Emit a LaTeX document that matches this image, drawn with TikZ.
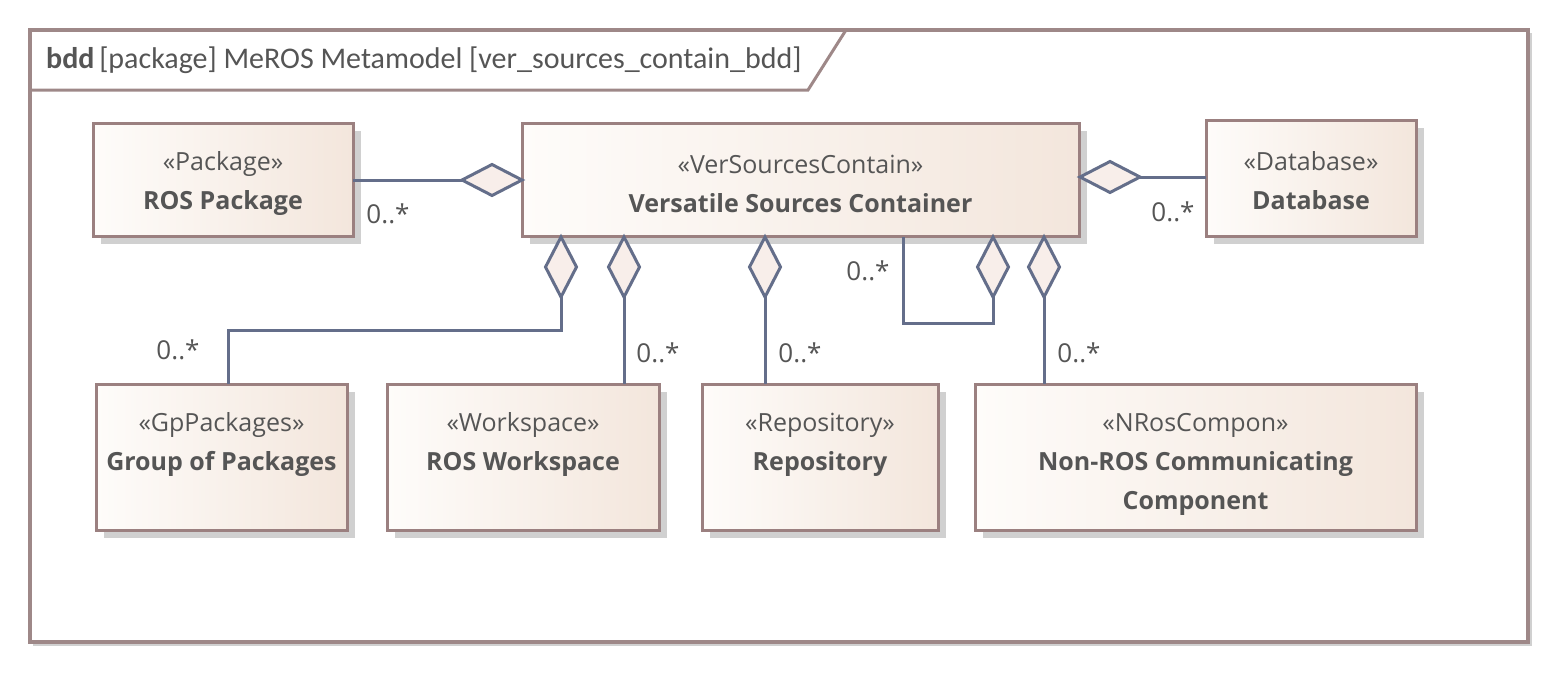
\documentclass[tikz,border=0pt]{standalone}
\usepackage{fontspec}
\setmainfont{Open Sans}
\newfontfamily\titlefont{Carlito}
\usetikzlibrary{shadows,calc}
\definecolor{frameC}{RGB}{158,136,136}
\definecolor{boxB}{RGB}{155,128,128}
\definecolor{fillL}{RGB}{254,252,250}
\definecolor{fillR}{RGB}{243,230,220}
\definecolor{connC}{RGB}{100,110,138}
\definecolor{diaF}{RGB}{248,238,234}
\definecolor{txtC}{RGB}{85,85,85}
\definecolor{shadC}{RGB}{208,208,208}
\begin{document}
\begin{tikzpicture}[x=1pt,y=-1pt,
  blk/.style={draw=boxB, line width=3pt, left color=fillL, right color=fillR,
     drop shadow={shadow xshift=8pt, shadow yshift=-8pt, fill=shadC, opacity=1},
     inner sep=0pt, outer sep=0pt},
  st/.style={text=txtC, font=\fontsize{25}{30}\selectfont, inner sep=0pt},
  nm/.style={text=txtC, font=\fontsize{25}{30}\selectfont\bfseries, inner sep=0pt},
  mult/.style={text=txtC, font=\fontsize{26}{30}\selectfont, inner sep=0pt},
  conn/.style={draw=connC, line width=3pt},
  dia/.style={draw=connC, line width=3pt, fill=diaF, line join=miter},
]
\useasboundingbox (0,0) rectangle (1557,672);
% frame
\draw[shadC, line width=2pt] (33,645) -- (1531,645) -- (1531,33);
\draw[frameC, line width=3.5pt] (30,30) rectangle (1528,642);
\draw[frameC, line width=3pt] (30,90) -- (808,90) -- (846,30);
\node[anchor=base west, inner sep=0pt, text=txtC, font=\titlefont\fontsize{30}{34}\selectfont] (title) at (46,68) {\textbf{bdd}\hspace{-2pt} [package] MeROS Metamodel [ver\_sources\_contain\_bdd]};

% boxes
\node[blk, minimum width=260pt, minimum height=113pt] (pkg) at (223,179.5) {};
\node[blk, minimum width=557pt, minimum height=113pt] (vsc) at (800.5,179.5) {};
\node[blk, minimum width=210pt, minimum height=116pt] (db) at (1311,178) {};
\node[blk, minimum width=251pt, minimum height=146pt] (gp) at (221.5,457) {};
\node[blk, minimum width=272pt, minimum height=146pt] (ws) at (523,457) {};
\node[blk, minimum width=236pt, minimum height=146pt] (repo) at (820,457) {};
\node[blk, minimum width=441pt, minimum height=146pt] (nros) at (1195.5,457) {};

% texts
\node[st] (pkgS) at (223,164) {«Package»};
\node[nm] (pkgN) at (223,203) {ROS Package};
\node[st] (vscS) at (800.5,164) {«VerSourcesContain»};
\node[nm] (vscN) at (800.5,203) {Versatile Sources Container};
\node[st] (dbS) at (1311,161) {«Database»};
\node[nm] (dbN) at (1311,200) {Database};
\node[st] (gpS) at (221.5,425) {«GpPackages»};
\node[nm] (gpN) at (221.5,464) {Group of Packages};
\node[st] (wsS) at (523,425) {«Workspace»};
\node[nm] (wsN) at (523,464) {ROS Workspace};
\node[st] (repoS) at (820,425) {«Repository»};
\node[nm] (repoN) at (820,464) {Repository};
\node[st] (nrosS) at (1195.5,425) {«NRosCompon»};
\node[nm] (nrosN) at (1195.5,464) {Non-ROS Communicating};
\node[nm] (nrosN2) at (1195.5,503) {Component};

% diamonds (horizontal)
\draw[dia] (522,180) -- (492,164.5) -- (462,180) -- (492,195.5) -- cycle;
\coordinate (dpk) at (462,180);
\draw[dia] (1080,177) -- (1110,161.5) -- (1140,177) -- (1110,192.5) -- cycle;
\coordinate (ddb) at (1140,177);
% diamonds (vertical)
\foreach \xx/\nn in {561/dgp, 624/dws, 765/drepo, 993/dself, 1044/dnros}{
  \draw[dia] (\xx,237) -- (\xx+15.5,267) -- (\xx,297) -- (\xx-15.5,267) -- cycle;
  \coordinate (\nn) at (\xx,297);
}

% connectors
\draw[conn] (dpk) -- (dpk -| pkg.east);
\draw[conn] (ddb) -- (ddb -| db.west);
\draw[conn] (dgp) -- (561,330) -- (228,330) -- (228,384);
\draw[conn] (dws) -- (dws |- ws.north);
\draw[conn] (drepo) -- (drepo |- repo.north);
\draw[conn] (dnros) -- (dnros |- nros.north);
\draw[conn] (903,237) -- (903,323) -- (993,323) -- (dself);

% multiplicities
\node[mult] (m1) at (388,214) {0..*};
\node[mult] (m2) at (1173,212) {0..*};
\node[mult] (m3) at (178,350) {0..*};
\node[mult] (m4) at (658,353) {0..*};
\node[mult] (m5) at (800,353) {0..*};
\node[mult] (m6) at (868,271) {0..*};
\node[mult] (m7) at (1079,353) {0..*};
\end{tikzpicture}
\end{document}
